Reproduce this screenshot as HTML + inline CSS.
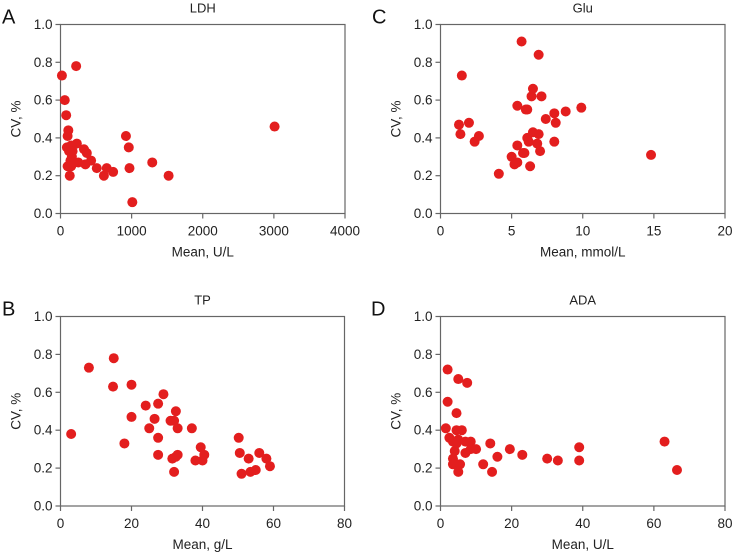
<!DOCTYPE html>
<html><head><meta charset="utf-8"><style>
html,body{margin:0;padding:0;background:#fff;}
svg{display:block;font-family:"Liberation Sans",Arial,sans-serif;}
</style></head><body>
<svg id="fig" width="735" height="556" viewBox="0 0 735 556" xmlns="http://www.w3.org/2000/svg"></svg>
<script>
// Panel A: LDH
const ldhX=[20,220,60,80,110,100,90,130,120,150,170,160,100,140,150,130,230,250,190,330,370,350,430,510,610,650,740,920,960,970,1010,1290,1520,3010];
const ldhY=[0.73,0.78,0.60,0.52,0.44,0.41,0.35,0.35,0.33,0.36,0.33,0.30,0.25,0.28,0.25,0.20,0.37,0.27,0.27,0.34,0.32,0.26,0.28,0.24,0.20,0.24,0.22,0.41,0.35,0.24,0.06,0.27,0.20,0.46];
// Panel C: Glu
const gluX=[1.5,1.3,1.4,2,2.4,2.7,4.1,5,5.2,5.4,5.4,5.8,5.9,5.4,6,6.1,6.1,6.2,6.3,6.4,6.5,6.5,6.9,6.8,7,7.1,7.4,8,8,8.1,8.8,9.9,5.7,6.9,14.8];
const gluY=[0.73,0.47,0.42,0.48,0.38,0.41,0.21,0.30,0.26,0.27,0.36,0.32,0.32,0.57,0.55,0.55,0.40,0.38,0.25,0.62,0.66,0.43,0.42,0.37,0.33,0.62,0.50,0.53,0.38,0.48,0.54,0.56,0.91,0.84,0.31];
// Panel B: TP
const tpX=[3,8,15,14.8,20,20,18,24,25,26.5,27.5,27.5,27.5,29,31,32,32.5,33,31.5,32.5,33,32,37,38,39.5,40,40.5,50.2,50.5,51,53,53.5,55,56,58,59];
const tpY=[0.38,0.73,0.78,0.63,0.64,0.47,0.33,0.53,0.41,0.46,0.54,0.36,0.27,0.59,0.45,0.45,0.50,0.41,0.25,0.26,0.27,0.18,0.41,0.24,0.31,0.24,0.27,0.36,0.28,0.17,0.25,0.18,0.19,0.28,0.25,0.21];
// Panel D: ADA
const adaX=[2,5,7.5,2,4.5,1.5,4.5,6,2.5,3.5,5,4.5,7,8.5,4,7,8.5,10,3.5,3.5,4.5,5.5,5,12,14,14.5,16,19.5,23,30,33,39,39,63,66.5];
const adaY=[0.72,0.67,0.65,0.55,0.49,0.41,0.40,0.40,0.36,0.34,0.35,0.33,0.34,0.34,0.29,0.28,0.30,0.30,0.25,0.22,0.22,0.22,0.18,0.22,0.33,0.18,0.26,0.30,0.27,0.25,0.24,0.24,0.31,0.34,0.19];
const yTicks=["0.0","0.2","0.4","0.6","0.8","1.0"];
const ldhTicks=["0","1000","2000","3000","4000"];
const gluTicks=["0","5","10","15","20"];
const tpTicks=["0","20","40","60","80"];
const adaTicks=["0","20","40","60","80"];

const NS="http://www.w3.org/2000/svg";
const svg=document.getElementById('fig');
function mk(tag,attrs,parent){const e=document.createElementNS(NS,tag);for(const k in attrs)e.setAttribute(k,attrs[k]);(parent||svg).appendChild(e);return e;}

function panel(key,letter,letterX,title,xlabel,x0,x1,y0,y1,xmax,xt,xs,ys){
  const g=mk('g',{});
  
  
  const sx=v=>x0+(v/xmax)*(x1-x0);
  const sy=v=>y0-(v/1)*(y0-y1);
  const fr=mk('rect',{x:x0,y:y1,width:x1-x0,height:y0-y1,fill:'none',stroke:'#666','stroke-width':1.2},g);
  
  
  yTicks.forEach((t,i)=>{
    const v=parseFloat(t),y=sy(v);
    mk('line',{x1:x0-5,x2:x0,y1:y,y2:y,stroke:'#666','stroke-width':1.2},g);
    const tx=mk('text',{x:x0-8,y:y+4.5,'text-anchor':'end','font-size':13.5,fill:'#222'},g);
    tx.textContent=t;
    
    
  });
  xt.forEach((t,i)=>{
    const x=sx(parseFloat(t));
    mk('line',{x1:x,x2:x,y1:y0,y2:y0+5,stroke:'#666','stroke-width':1.2},g);
    const tx=mk('text',{x:x,y:y0+22,'text-anchor':'middle','font-size':13.5,fill:'#222'},g);
    tx.textContent=t;
    
    
  });
  const tt=mk('text',{x:(x0+x1)/2,y:y1-12,'text-anchor':'middle','font-size':13,fill:'#222'},g);
  tt.textContent=title;
  
  
  const lt=mk('text',{x:letterX,y:y1-1,'font-size':20,fill:'#111'},g);
  lt.textContent=letter;
  
  
  const xl=mk('text',{x:(x0+x1)/2,y:y0+43,'text-anchor':'middle','font-size':13.5,fill:'#222'},g);
  xl.textContent=xlabel;
  
  
  const cy=(y0+y1)/2;
  const yl=mk('text',{x:x0-40,y:cy,'text-anchor':'middle','font-size':13.5,fill:'#222',transform:'rotate(-90 '+(x0-40)+' '+cy+')'},g);
  yl.textContent='CV, %';
  
  
  xs.forEach((v,i)=>{
    const c=mk('circle',{cx:sx(v),cy:sy(ys[i]),r:5,fill:'#e31e1e'},g);
    
    
  });
}
panel('ldh','A',2,'LDH','Mean, U/L',60.5,345,213.5,24.5,4000,ldhTicks,ldhX,ldhY);
panel('glu','C',372,'Glu','Mean, mmol/L',440.5,725,213.5,24.5,20,gluTicks,gluX,gluY);
panel('tp','B',2,'TP','Mean, g/L',60.5,344.5,506,316.5,80,tpTicks,tpX,tpY);
panel('ada','D',371,'ADA','Mean, U/L',440.5,725,506,316.5,80,adaTicks,adaX,adaY);
</script>
</body></html>
